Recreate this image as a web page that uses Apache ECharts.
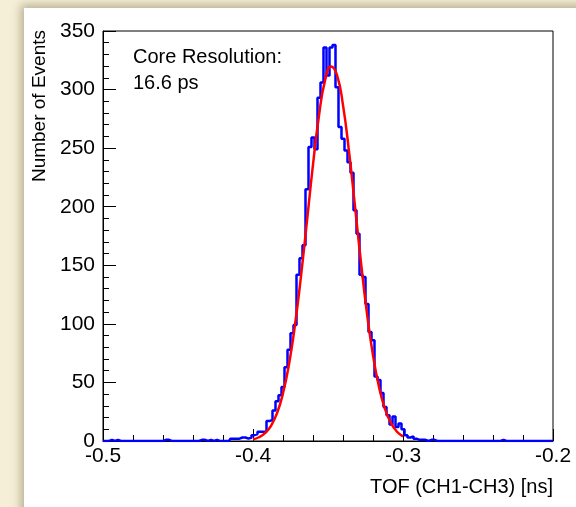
<!DOCTYPE html>
<html>
<head>
<meta charset="utf-8">
<script src="https://cdn.jsdelivr.net/npm/echarts@6/dist/echarts.min.js"></script>
<style>
  html, body { margin: 0; padding: 0; width: 576px; height: 507px; overflow: hidden; background: #f4efd6; }
  #panel { position: absolute; left: 24px; top: 8px; width: 560px; height: 510px; background: #fff;
           box-shadow: 0 0 9px 3px rgba(110, 95, 60, 0.45); }
  #chart { position: absolute; left: 0; top: 0; width: 576px; height: 507px; }
</style>
</head>
<body>
<div id="panel"></div>
<div id="chart"></div>
<script>
// histogram: 151 bins of 0.002 ns, first bin centred on -0.5
const binStart = -0.5;
const binWidth = 0.002;
const counts = [
  0, 0, 0, 1, 0, 1, 0, 0, 0, 0,
  0, 0, 0, 0, 0, 0, 0, 0, 0, 0,
  0, 1, 1, 0, 0, 0, 0, 0, 0, 0,
  0, 0, 0, 1, 1, 0, 1, 0, 1, 0,
  0, 0, 0, 2, 2, 2, 3, 3, 2, 3,
  5, 6, 8, 8, 8, 17, 18, 26, 34, 39,
  46, 63, 78, 92, 99, 142, 156, 167, 215, 251,
  259, 249, 293, 306, 336, 312, 336, 338, 302, 268,
  258, 248, 238, 229, 197, 177, 142, 140, 117, 93,
  86, 55, 52, 41, 29, 22, 14, 21, 12, 15,
  10, 5, 3, 4, 2, 1, 1, 1, 0, 1,
  1, 0, 0, 0, 0, 0, 0, 0, 0, 0,
  0, 0, 0, 0, 0, 0, 0, 0, 0, 0,
  0, 0, 0, 1, 0, 0, 0, 0, 0, 0,
  0, 0, 0, 0, 0, 0, 0, 0, 0, 0,
  0
];

// gaussian fit
const fitX = [-0.400, -0.396, -0.392, -0.388, -0.384, -0.380, -0.376, -0.372, -0.368, -0.364,
  -0.360, -0.356, -0.352, -0.348, -0.344, -0.340, -0.336, -0.332, -0.328, -0.324,
  -0.320, -0.316, -0.312, -0.308, -0.304, -0.300];
const fitY = [1.5, 3.2, 6.7, 13.0, 23.7, 40.7, 65.5, 99.1, 140.8, 188.0,
  235.9, 277.9, 307.6, 319.8, 312.4, 286.7, 247.2, 200.2, 152.2, 108.8,
  73.1, 46.1, 27.3, 15.2, 7.9, 3.9];

const xTicks = [-0.5, -0.4, -0.3, -0.2];
const yTicks = [0, 50, 100, 150, 200, 250, 300, 350];

const histData = counts.map((c, i) => [binStart + i * binWidth, c]);
const fitData = fitX.map((x, i) => [x, fitY[i]]);

const FONT = '"Liberation Sans", Arial, Helvetica, sans-serif';

let chart = echarts.init(document.getElementById('chart'), null, { renderer: 'canvas' });

let option = {
  animation: false,
  backgroundColor: 'transparent',
  grid: {
    left: 103,
    right: 23,
    top: 31,
    bottom: 66,
    show: true,
    borderColor: '#000',
    borderWidth: 1,
    backgroundColor: 'transparent'
  },
  xAxis: {
    type: 'value',
    min: xTicks[0],
    max: xTicks[xTicks.length - 1],
    interval: 0.1,
    axisLine: { show: true, onZero: false, lineStyle: { color: '#000', width: 1 } },
    axisTick: { show: true, inside: true, length: 12, lineStyle: { color: '#000' } },
    minorTick: { show: true, splitNumber: 5, length: 6, lineStyle: { color: '#000' } },
    splitLine: { show: false },
    axisLabel: {
      margin: 5,
      fontSize: 21,
      fontFamily: FONT,
      color: '#000',
      formatter: v => v.toFixed(1)
    }
  },
  yAxis: {
    type: 'value',
    min: yTicks[0],
    max: yTicks[yTicks.length - 1],
    interval: 50,
    axisLine: { show: true, lineStyle: { color: '#000', width: 1 } },
    axisTick: { show: true, inside: true, length: 13, lineStyle: { color: '#000' } },
    minorTick: { show: true, splitNumber: 5, length: 6, lineStyle: { color: '#000' } },
    splitLine: { show: false },
    axisLabel: {
      margin: 8,
      fontSize: 21,
      fontFamily: FONT,
      color: '#000'
    }
  },
  series: [
    {
      name: 'TOF',
      type: 'line',
      step: 'middle',
      data: histData,
      symbol: 'none',
      lineStyle: { color: '#0000ff', width: 2.5 },
      z: 2
    },
    {
      name: 'fit',
      type: 'line',
      smooth: true,
      data: fitData,
      symbol: 'none',
      lineStyle: { color: '#ff0000', width: 2.5 },
      z: 3
    }
  ],
  graphic: [
    {
      type: 'text',
      x: 553,
      y: 487,
      style: {
        text: 'TOF (CH1-CH3) [ns]',
        fontSize: 20,
        fontFamily: FONT,
        fill: '#000',
        align: 'right',
        verticalAlign: 'middle'
      }
    },
    {
      type: 'text',
      x: 40,
      y: 30,
      rotation: Math.PI / 2,
      style: {
        text: 'Number of Events',
        fontSize: 19,
        fontFamily: FONT,
        fill: '#000',
        align: 'right',
        verticalAlign: 'middle'
      }
    },
    {
      type: 'text',
      x: 133,
      y: 57,
      style: {
        text: 'Core Resolution:',
        fontSize: 20,
        fontFamily: FONT,
        fill: '#000',
        align: 'left',
        verticalAlign: 'middle'
      }
    },
    {
      type: 'text',
      x: 133,
      y: 83,
      style: {
        text: '16.6 ps',
        fontSize: 20,
        fontFamily: FONT,
        fill: '#000',
        align: 'left',
        verticalAlign: 'middle'
      }
    }
  ]
};

chart.setOption(option);
</script>
</body>
</html>
